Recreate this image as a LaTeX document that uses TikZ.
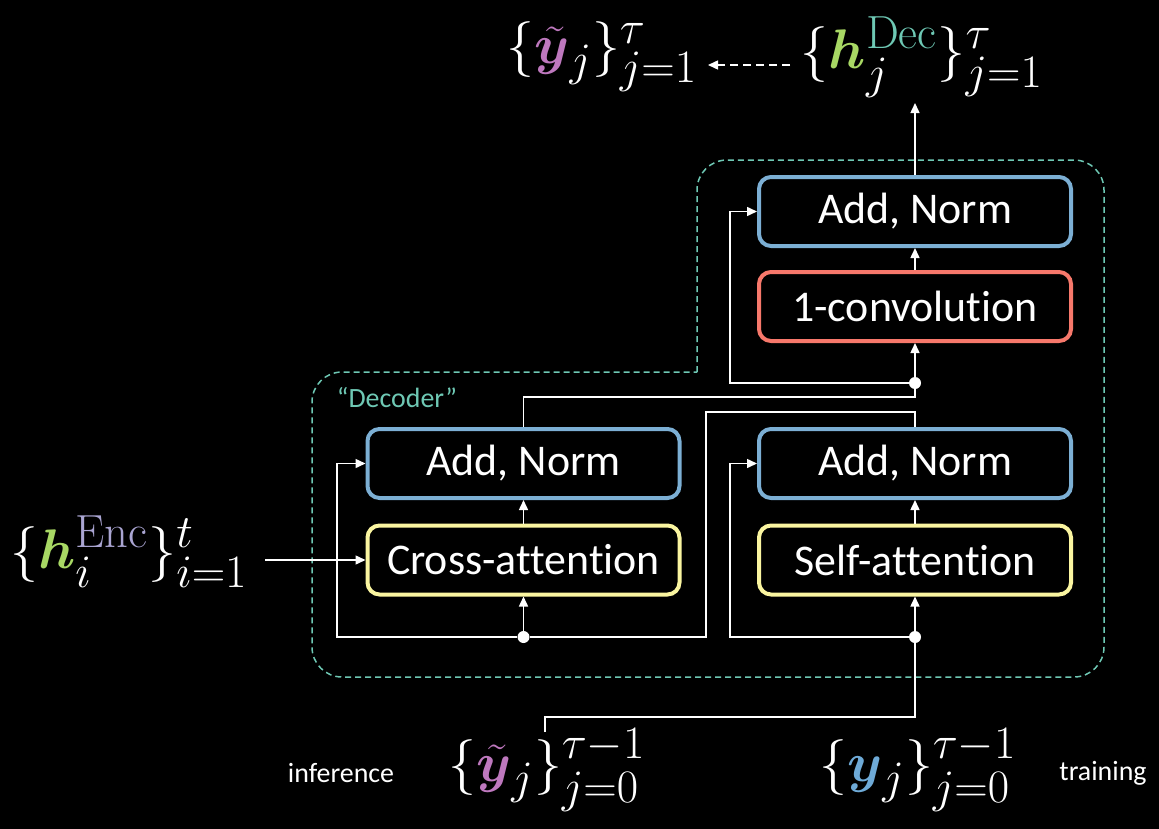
\documentclass[tikz,border=0pt]{standalone}
\usepackage{amsmath,bm}
\usepackage{graphicx}
\usepackage{fontspec}
\newfontfamily\carl[Ligatures={NoCommon,NoRare}]{Carlito}
\usetikzlibrary{arrows.meta}
\definecolor{nblue}{RGB}{124,175,212}
\definecolor{nred}{RGB}{247,120,107}
\definecolor{nyellow}{RGB}{250,245,160}
\definecolor{nteal}{RGB}{110,200,180}
\definecolor{npurp}{RGB}{190,120,190}
\definecolor{ngreen}{RGB}{168,216,100}
\definecolor{nlav}{RGB}{170,165,210}
\definecolor{nyblue}{RGB}{110,170,215}
\newcommand{\bigmath}[1]{\scalebox{2.25}{\fontsize{24.88}{28}\selectfont$#1$}}
\tikzset{
  box/.style={draw, line width=4bp, rounded corners=12bp, fill=black, minimum width=312bp, minimum height=69bp, font=\carl\fontsize{44}{50}\selectfont, text=white, inner sep=0pt},
  bluebox/.style={box, draw=nblue},
  redbox/.style={box, draw=nred},
  yelbox/.style={box, draw=nyellow},
  wire/.style={white, line width=1.5bp},
  arr/.style={wire, -{Triangle[length=10bp,width=9bp]}},
  dot/.style={circle, fill=white, inner sep=0pt, minimum size=12bp},
  mathnode/.style={text=white, inner sep=0pt},
  lbl/.style={text=white, font=\carl\fontsize{28}{30}\selectfont, inner sep=0pt},
  container/.style={nteal, line width=1.5bp, dash pattern=on 6bp off 4bp}
}
\begin{document}
\begin{tikzpicture}[x=1bp,y=-1bp]
\fill[black] (0,0) rectangle (1159,829);
\useasboundingbox (0,0) rectangle (1159,829);

% container
\draw[container] (697,372) -- (697,260) [rounded corners=30bp] -- (697,160) -- (1104,160) -- (1104,677) -- (312,677) -- (312,372) -- (500,372) [sharp corners] -- (697,372) -- cycle;
\node[text=nteal, font=\carl\fontsize{28}{30}\selectfont, inner sep=0pt] (declbl) at (397,398) {“Decoder”};

% boxes
\node[bluebox] (anTop) at (915,211.5) {Add, Norm};
\node[redbox] (conv) at (915,306.5) {1-convolution};
\node[bluebox] (anL) at (523.5,463.5) {Add, Norm};
\node[yelbox] (ca) at (523.5,560) {Cross-attention};
\node[bluebox] (anR) at (915,463.5) {Add, Norm};
\node[yelbox] (sa) at (915,560) {Self-attention};

% dots
\node[dot] (dTop) at (915,383) {};
\node[dot] (dL) at (523.5,637) {};
\node[dot] (dR) at (915,637) {};

% math labels
\node[mathnode] (ytop) at (602,57) {\bigmath{\{\textcolor{npurp}{\tilde{\bm{y}}}_j\}_{j=1}^{\tau}}};
\node[mathnode] (hdec) at (922,57) {\bigmath{\{\textcolor{ngreen}{\bm{h}}_j^{\textcolor{nteal}{\mathrm{Dec}}}\}_{j=1}^{\tau}}};
\node[mathnode] (henc) at (129,552) {\bigmath{\{\textcolor{ngreen}{\bm{h}}_i^{\textcolor{nlav}{\mathrm{Enc}}}\}_{i=1}^{t}}};
\node[mathnode] (ybt) at (547,770) {\bigmath{\{\textcolor{npurp}{\tilde{\bm{y}}}_j\}_{j=0}^{\tau-1}}};
\node[mathnode] (yb) at (918,770) {\bigmath{\{\textcolor{nyblue}{\bm{y}}_j\}_{j=0}^{\tau-1}}};
\node[lbl] (inf) at (341,773) {inference};
\node[lbl] (trn) at (1103,773) {training};

% coordinates
\coordinate (htip) at (915,103);
\coordinate (dsA) at (790,65);
\coordinate (dsB) at (708,65);
\coordinate (hencR) at (265,560);
\coordinate (ybtTop) at (545,732);

% connectors: right block
\draw[arr] (dR) -- (sa.south);
\draw[arr] (sa.north) -- (anR.south);
\draw[arr] (dR) -- (730,637) |- (anR.west);
\draw[wire] (anR.north) -- (915,412) -| (706,637) -- (dL);

% left block
\draw[arr] (dL) -- (ca.south);
\draw[arr] (ca.north) -- (anL.south);
\draw[arr] (dL) -- (337,637) |- (anL.west);
\draw[wire] (anL.north) -- (523.5,397) -| (dTop);

% top block
\draw[arr] (dTop) -- (conv.south);
\draw[arr] (conv.north) -- (anTop.south);
\draw[arr] (dTop) -- (730,383) |- (anTop.west);
\draw[arr] (anTop.north) -- (htip);
\draw[arr, dash pattern=on 8bp off 5bp] (dsA) -- (dsB);

% inputs
\draw[arr] (hencR) -- (ca.west);
\draw[wire] (ybtTop) -- (545,717) -| (dR);
\end{tikzpicture}
\end{document}
